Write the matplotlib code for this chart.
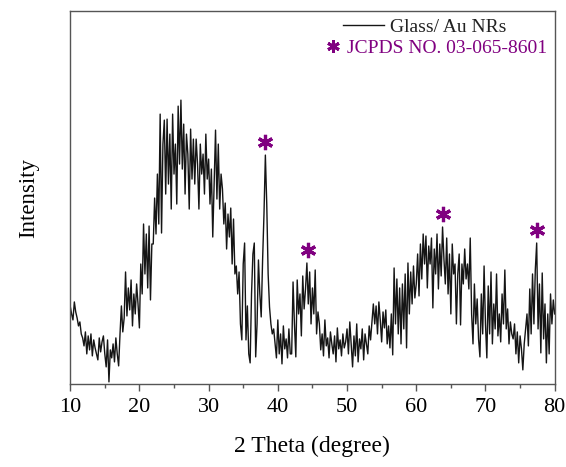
import matplotlib
matplotlib.use('Agg')
import matplotlib.pyplot as plt
from matplotlib.lines import Line2D
from matplotlib.ticker import MultipleLocator
import numpy as np

plt.rcParams['font.family'] = ['Liberation Serif', 'DejaVu Serif']

# 2 theta from 10 to 80 deg, step 0.2
two_theta = np.round(np.arange(10.0, 80.01, 0.2), 1)

# intensity (arb. units), in blocks of 2 degrees
intensity = [
    78, 70, 64, 82, 72, 66, 58, 62, 50, 46,          # 10-12
    38, 52, 30, 48, 34, 50, 28, 44, 36, 30,          # 12-14
    24, 46, 32, 42, 48, 30, 17, 44, 2, 34,           # 14-16
    26, 40, 22, 46, 30, 18, 50, 78, 52, 66,          # 16-18
    112, 68, 96, 74, 104, 58, 90, 70, 100, 80,       # 18-20
    56, 120, 90, 160, 110, 150, 96, 158, 84, 140,    # 20-22
    140, 186, 150, 210, 160, 270, 151, 240, 264, 190,  # 22-24
    265, 200, 250, 175, 270, 210, 240, 180, 278, 220,  # 24-26
    284, 215, 260, 190, 250, 230, 175, 255, 205, 245,  # 26-28
    200, 245, 220, 175, 240, 210, 230, 190, 250, 205,  # 28-30
    225, 180, 215, 147, 200, 254, 185, 240, 175, 210,  # 30-32
    195, 160, 181, 135, 170, 147, 176, 120, 165, 110,  # 32-34
    118, 90, 112, 60, 44, 120, 141, 44, 78, 30,      # 34-36
    21, 90, 130, 141, 27, 60, 124, 90, 67, 124,      # 36-38
    170, 229, 180, 110, 77, 60, 50, 55, 40, 26,      # 38-40
    64, 30, 50, 20, 58, 35, 45, 26, 55, 30,          # 40-42
    30, 102, 60, 27, 104, 70, 90, 48, 108, 75,       # 42-44
    95, 121, 80, 112, 60, 96, 70, 114, 50, 72,       # 44-46
    60, 34, 50, 28, 64, 38, 46, 26, 52, 40,          # 46-48
    30, 48, 22, 56, 35, 44, 28, 50, 36, 42,          # 48-50
    55, 30, 62, 40, 17, 48, 28, 60, 22, 45,          # 50-52
    35, 55, 24, 50, 40, 30, 58, 44, 62, 80,          # 52-54
    60, 78, 50, 82, 64, 42, 72, 56, 74, 40,          # 54-56
    58, 36, 70, 29, 116, 60, 105, 50, 96, 40,        # 56-58
    100, 55, 110, 36, 121, 70, 112, 80, 118, 86,     # 58-60
    100, 130, 88, 140, 105, 150, 120, 148, 96, 138,  # 60-62
    120, 146, 76, 135, 110, 150, 95, 140, 108, 157,  # 62-64
    125, 100, 146, 90, 130, 70, 140, 110, 120, 60,   # 64-66
    110, 130, 59, 120, 100, 135, 105, 120, 95, 146,  # 66-68
    70, 40, 100, 60, 85, 45, 27, 90, 50, 118,        # 68-70
    60, 26, 98, 50, 112, 40, 80, 55, 110, 48,        # 70-72
    70, 42, 90, 60, 114, 55, 75, 40, 62, 50,         # 72-74
    45, 60, 30, 52, 21, 48, 35, 14, 40, 55,          # 74-76
    70, 38, 95, 50, 110, 60, 114, 141, 55, 100,      # 76-78
    31, 111, 45, 80, 21, 70, 30, 90, 60, 84,         # 78-80
    70,
]

# Au reflections marked with *
peak_pos = [38.2, 44.4, 63.8, 77.4]

sample_label = 'Glass/ Au NRs'
ref_label = 'JCPDS NO. 03-065-8601'
purple = '#800080'
star = (6, 2, 0)

fig = plt.figure(figsize=(5.66, 4.67), dpi=100)
ax = fig.add_subplot(111)
fig.subplots_adjust(left=0.124, right=0.980, top=0.976, bottom=0.178)

ax.plot(two_theta, intensity, color='#151515', linewidth=1.0)

# stars above the gold peaks
tt = np.array(two_theta)
inten = np.array(intensity)
star_y = []
for p in peak_pos:
    near = np.abs(tt - p) <= 0.3
    star_y.append(inten[near].max() + 13)
ax.plot(peak_pos, star_y, linestyle='none', marker=star,
        markersize=11, markeredgewidth=2.3, color=purple)

ax.set_xlim(10, 80)
ax.set_ylim(0, 373)
ax.xaxis.set_major_locator(MultipleLocator(10))
ax.xaxis.set_minor_locator(MultipleLocator(5))
ax.tick_params(axis='x', which='major', direction='out', length=5, width=1,
               color='#555555', labelsize=16, pad=5)
ax.tick_params(axis='x', which='minor', direction='out', length=3, width=1,
               color='#555555')
ax.set_yticks([])
for s in ax.spines.values():
    s.set_color('#555555')
    s.set_linewidth(1.0)

ax.set_xlabel('2 Theta (degree)', fontsize=17, labelpad=14)
ax.set_ylabel('Intensity', fontsize=16.5, labelpad=22)

# two legend rows, each centred like in the original
leg1 = ax.legend([Line2D([], [], color='#151515', linewidth=1.0)], [sample_label],
                 loc='center left', bbox_to_anchor=(343 / 566, 1 - 27 / 467),
                 bbox_transform=fig.transFigure, frameon=False, fontsize=14,
                 labelcolor='#222222', handlelength=2.1, handletextpad=0.3,
                 borderpad=0, borderaxespad=0)
ax.add_artist(leg1)
ax.legend([Line2D([], [], linestyle='none', marker=star, markersize=9,
                  markeredgewidth=2.1, color=purple)], [ref_label],
          loc='center left', bbox_to_anchor=(323 / 566, 1 - 48 / 467),
          bbox_transform=fig.transFigure, frameon=False, fontsize=14,
          labelcolor=purple, handlelength=1.0, handletextpad=0.25,
          borderpad=0, borderaxespad=0)

fig.savefig('out.png', dpi=100)
